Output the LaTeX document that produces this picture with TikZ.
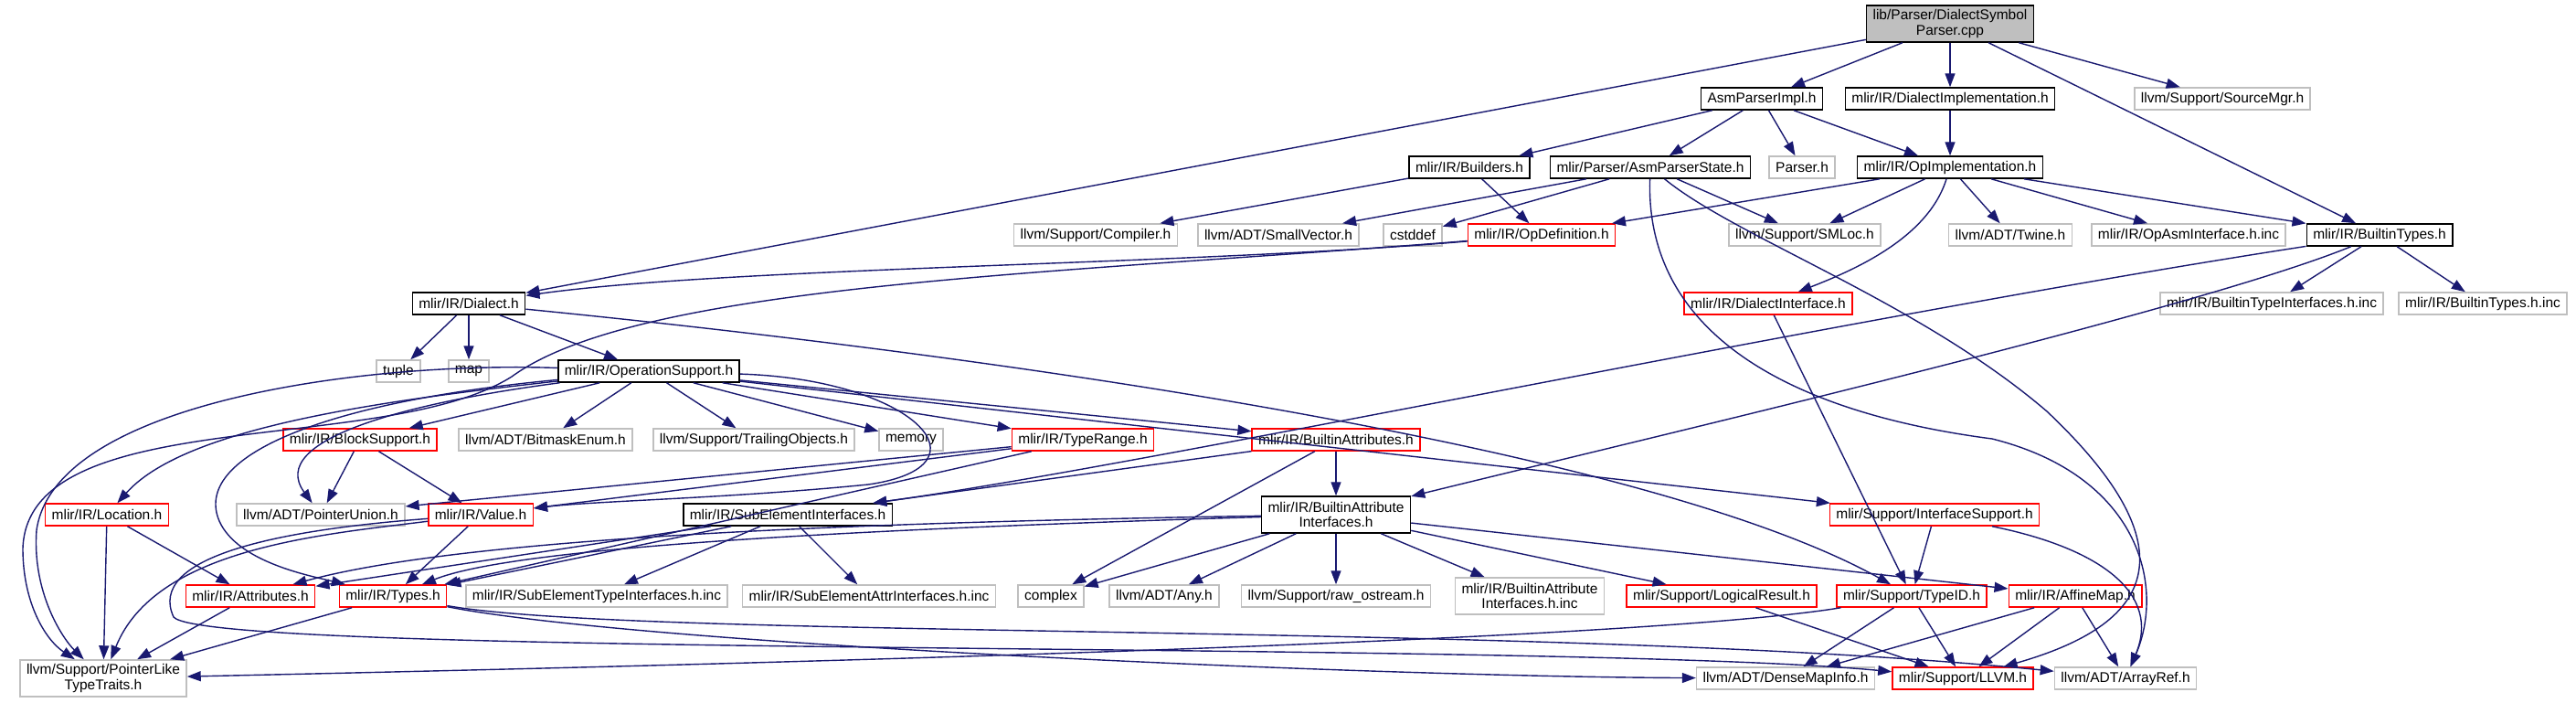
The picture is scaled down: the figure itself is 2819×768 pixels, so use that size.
\documentclass[tikz,border=0pt]{standalone}
\usepackage{fontspec}
\setmainfont{Liberation Sans}
\usepackage{xcolor}
\usetikzlibrary{arrows.meta}
\definecolor{edgeBlue}{HTML}{191970}
\definecolor{boxGrey}{HTML}{BFBFBF}
\tikzset{
  incBox/.style={rectangle, minimum height=12pt, inner xsep=3.5pt, inner ysep=1pt, align=center, fill=white, font=\fontsize{7.75}{8.3}\selectfont, line width=0.75pt},
  incRoot/.style={incBox, draw=black, fill=boxGrey, minimum height=20pt},
  incFile/.style={incBox, draw=black},
  incTrunc/.style={incBox, draw=red},
  incSys/.style={incBox, draw=boxGrey},
  incArr/.style={draw=edgeBlue, line width=0.7pt, -{Triangle[length=7.5pt,width=5.5pt]}},
}

\begin{document}
\begin{tikzpicture}[x=0.5pt, y=-0.5pt]
\useasboundingbox (0,0) rectangle (2819,768);
% rows of the include graph
\node (dsp) [incRoot] at (2134,26) {lib/Parser/DialectSymbol\\Parser.cpp};
\node (asmImpl) [incFile] at (1928,108) {AsmParserImpl.h};
\node (dialImpl) [incFile] at (2134,108) {mlir/IR/DialectImplementation.h};
\node (srcMgr) [incSys] at (2432,108) {llvm/Support/SourceMgr.h};
\node (builders) [incFile] at (1608,183) {mlir/IR/Builders.h};
\node (asmState) [incFile] at (1806,183) {mlir/Parser/AsmParserState.h};
\node (parserH) [incSys] at (1972,183) {Parser.h};
\node (opImpl) [incFile] at (2134,183) {mlir/IR/OpImplementation.h};
\node (compiler) [incSys] at (1199,257) {llvm/Support/Compiler.h};
\node (smallVec) [incSys] at (1399,257) {llvm/ADT/SmallVector.h};
\node (cstddef) [incSys] at (1546,257) {cstddef};
\node (opDef) [incTrunc] at (1687,257) {mlir/IR/OpDefinition.h};
\node (smloc) [incSys] at (1975,257) {llvm/Support/SMLoc.h};
\node (twine) [incSys] at (2200,257) {llvm/ADT/Twine.h};
\node (opAsmInc) [incSys] at (2395,257) {mlir/IR/OpAsmInterface.h.inc};
\node (bTypes) [incFile] at (2604,257) {mlir/IR/BuiltinTypes.h};
\node (dialect) [incFile] at (513,332) {mlir/IR/Dialect.h};
\node (dialIface) [incTrunc] at (1935,332) {mlir/IR/DialectInterface.h};
\node (bTypeIfInc) [incSys] at (2486,332) {mlir/IR/BuiltinTypeInterfaces.h.inc};
\node (bTypesInc) [incSys] at (2717,332) {mlir/IR/BuiltinTypes.h.inc};
\node (tuple) [incSys] at (436,406) {tuple};
\node (map) [incSys] at (513,406) {map};
\node (opSupport) [incFile] at (710,406) {mlir/IR/OperationSupport.h};
\node (blockSup) [incTrunc] at (394,481) {mlir/IR/BlockSupport.h};
\node (bitmask) [incSys] at (597,481) {llvm/ADT/BitmaskEnum.h};
\node (trailing) [incSys] at (825,481) {llvm/Support/TrailingObjects.h};
\node (memory) [incSys] at (997,481) {memory};
\node (typeRange) [incTrunc] at (1185,481) {mlir/IR/TypeRange.h};
\node (bAttrs) [incTrunc] at (1462,481) {mlir/IR/BuiltinAttributes.h};
\node (location) [incTrunc] at (117,563) {mlir/IR/Location.h};
\node (ptrUnion) [incSys] at (351,563) {llvm/ADT/PointerUnion.h};
\node (value) [incTrunc] at (526,563) {mlir/IR/Value.h};
\node (subElem) [incFile] at (862,563) {mlir/IR/SubElementInterfaces.h};
\node (bAttrIface) [incFile, minimum height=20pt] at (1462,563) {mlir/IR/BuiltinAttribute\\Interfaces.h};
\node (ifaceSup) [incTrunc] at (2117,563) {mlir/Support/InterfaceSupport.h};
\node (attrs) [incTrunc] at (274,652) {mlir/IR/Attributes.h};
\node (types) [incTrunc] at (430,652) {mlir/IR/Types.h};
\node (subTypeInc) [incSys] at (653,652) {mlir/IR/SubElementTypeInterfaces.h.inc};
\node (subAttrInc) [incSys] at (951,652) {mlir/IR/SubElementAttrInterfaces.h.inc};
\node (complex) [incSys] at (1150,652) {complex};
\node (anyH) [incSys] at (1274,652) {llvm/ADT/Any.h};
\node (rawOs) [incSys] at (1462,652) {llvm/Support/raw\_ostream.h};
\node (bAttrIfInc) [incSys, minimum height=20pt] at (1674,652) {mlir/IR/BuiltinAttribute\\Interfaces.h.inc};
\node (logRes) [incTrunc] at (1884,652) {mlir/Support/LogicalResult.h};
\node (typeId) [incTrunc] at (2092,652) {mlir/Support/TypeID.h};
\node (affine) [incTrunc] at (2271,652) {mlir/IR/AffineMap.h};
\node (ptrLike) [incSys, minimum height=20pt] at (113,742) {llvm/Support/PointerLike\\TypeTraits.h};
\node (denseMap) [incSys] at (1954,742) {llvm/ADT/DenseMapInfo.h};
\node (llvmH) [incTrunc] at (2148,742) {mlir/Support/LLVM.h};
\node (arrayRef) [incSys] at (2326,742) {llvm/ADT/ArrayRef.h};

% top part
\draw [incArr] (dsp) -- (asmImpl);
\draw [incArr] (dsp) -- (dialImpl);
\draw [incArr] (dsp) -- (srcMgr);
\draw [incArr] (dsp) -- (bTypes);
\draw [incArr] (dsp) -- (dialect);
\draw [incArr] (asmImpl) -- (builders);
\draw [incArr] (asmImpl) -- (asmState);
\draw [incArr] (asmImpl) -- (parserH);
\draw [incArr] (asmImpl) -- (opImpl);
\draw [incArr] (dialImpl) -- (opImpl);
\draw [incArr] (builders) -- (compiler);
\draw [incArr] (builders) -- (opDef);
\draw [incArr] (asmState) -- (smallVec);
\draw [incArr] (asmState) -- (cstddef);
\draw [incArr] (asmState) -- (smloc);
\draw [incArr] (asmState) .. controls (1800,360) and (1950,450) .. (2180,480) .. controls (2340,520) and (2370,640) .. (arrayRef);
\draw [incArr] (asmState) .. controls (1900,260) and (2100,330) .. (2240,450) .. controls (2420,620) and (2330,690) .. (llvmH);
\draw [incArr] (opImpl) -- (opDef);
\draw [incArr] (opImpl) -- (smloc);
\draw [incArr] (opImpl) .. controls (2110,260) and (2030,295) .. (dialIface);
\draw [incArr] (opImpl) -- (twine);
\draw [incArr] (opImpl) -- (opAsmInc);
\draw [incArr] (opImpl) -- (bTypes);
\draw [incArr] (opDef) .. controls (1300,290) and (800,292) .. (dialect);
\draw [incArr] (opDef) .. controls (1150,300) and (700,310) .. (560,412) .. controls (420,500) and (30,440) .. (25,600) .. controls (25,660) and (50,700) .. (ptrLike);
\draw [incArr] (bTypes) -- (bTypeIfInc);
\draw [incArr] (bTypes) -- (bTypesInc);
\draw [incArr] (bTypes) .. controls (2000,350) and (1250,510) .. (subElem);
\draw [incArr] (bTypes) .. controls (2400,340) and (1800,480) .. (bAttrIface);

% middle part
\draw [incArr] (dialect) -- (tuple);
\draw [incArr] (dialect) -- (map);
\draw [incArr] (dialect) -- (opSupport);
\draw [incArr] (dialect) .. controls (1100,390) and (1800,490) .. (typeId);
\draw [incArr] (dialIface) -- (typeId);
\draw [incArr] (opSupport) -- (blockSup);
\draw [incArr] (opSupport) -- (bitmask);
\draw [incArr] (opSupport) -- (trailing);
\draw [incArr] (opSupport) -- (memory);
\draw [incArr] (opSupport) -- (typeRange);
\draw [incArr] (opSupport) -- (bAttrs);
\draw [incArr] (opSupport) -- (ifaceSup);
\draw [incArr] (opSupport) .. controls (400,440) and (200,470) .. (location);
\draw [incArr] (opSupport) .. controls (450,440) and (290,480) .. (ptrUnion);
\draw [incArr] (opSupport) .. controls (1000,415) and (1090,510) .. (950,530) .. controls (800,545) and (650,548) .. (value);
\draw [incArr] (opSupport) .. controls (350,440) and (210,500) .. (240,570) .. controls (260,615) and (340,630) .. (types);
\draw [incArr] (opSupport) .. controls (400,395) and (60,440) .. (40,580) .. controls (35,650) and (70,700) .. (ptrLike);
\draw [incArr] (blockSup) -- (ptrUnion);
\draw [incArr] (blockSup) -- (value);
\draw [incArr] (typeRange) -- (ptrUnion);
\draw [incArr] (typeRange) -- (value);
\draw [incArr] (typeRange) -- (types);
\draw [incArr] (bAttrs) -- (subElem);
\draw [incArr] (bAttrs) -- (bAttrIface);
\draw [incArr] (bAttrs) -- (complex);

% lower part
\draw [incArr] (location) -- (attrs);
\draw [incArr] (location) -- (ptrLike);
\draw [incArr] (value) -- (types);
\draw [incArr] (value) .. controls (350,585) and (170,600) .. (ptrLike);
\draw [incArr] (value) .. controls (300,580) and (160,610) .. (190,675) .. controls (230,720) and (1700,700) .. (llvmH);
\draw [incArr] (subElem) -- (attrs);
\draw [incArr] (subElem) -- (types);
\draw [incArr] (subElem) -- (subTypeInc);
\draw [incArr] (subElem) -- (subAttrInc);
\draw [incArr] (bAttrIface) .. controls (900,572) and (500,590) .. (attrs);
\draw [incArr] (bAttrIface) .. controls (900,580) and (560,600) .. (types);
\draw [incArr] (bAttrIface) -- (complex);
\draw [incArr] (bAttrIface) -- (anyH);
\draw [incArr] (bAttrIface) -- (rawOs);
\draw [incArr] (bAttrIface) -- (bAttrIfInc);
\draw [incArr] (bAttrIface) -- (logRes);
\draw [incArr] (bAttrIface) -- (affine);
\draw [incArr] (ifaceSup) -- (typeId);
\draw [incArr] (ifaceSup) .. controls (2300,600) and (2365,650) .. (arrayRef);
\draw [incArr] (attrs) -- (ptrLike);
\draw [incArr] (types) -- (ptrLike);
\draw [incArr] (types) .. controls (700,700) and (1700,680) .. (arrayRef);
\draw [incArr] (types) .. controls (700,705) and (1500,740) .. (denseMap);
\draw [incArr] (logRes) -- (llvmH);
\draw [incArr] (typeId) -- (denseMap);
\draw [incArr] (typeId) -- (llvmH);
\draw [incArr] (typeId) .. controls (1800,700) and (900,725) .. (ptrLike);
\draw [incArr] (affine) -- (denseMap);
\draw [incArr] (affine) -- (llvmH);
\draw [incArr] (affine) -- (arrayRef);
\end{tikzpicture}
\end{document}
